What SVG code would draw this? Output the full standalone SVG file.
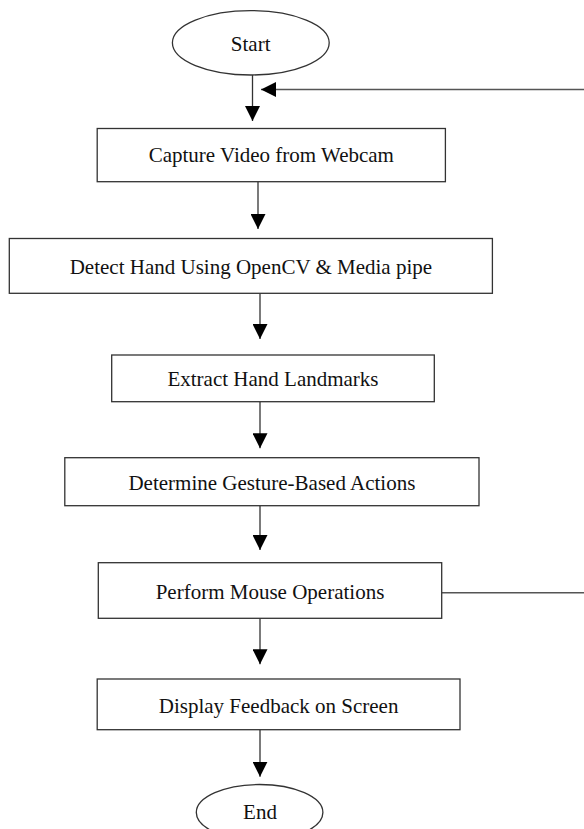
<svg xmlns="http://www.w3.org/2000/svg" width="584" height="829" viewBox="0 0 584 829">
<style>
.n{fill:#fff;stroke:#333;stroke-width:1.3}
.t{font-family:"Liberation Serif","Times New Roman",serif;font-size:21px;fill:#111;text-anchor:middle}
.c{fill:none;stroke:#333;stroke-width:1.3}
.fb{fill:none;stroke:#555;stroke-width:1.5}
</style>
<defs>
<marker id="ah" markerUnits="userSpaceOnUse" markerWidth="15" markerHeight="15" refX="15" refY="7.5" orient="auto">
<path d="M0,0 L15,7.5 L0,15 z" fill="#000"/>
</marker>
</defs>
<rect width="584" height="829" fill="#fff"/>
<g id="connectors">
<line class="c" x1="252.5" y1="75" x2="252.5" y2="121" marker-end="url(#ah)"/>
<line class="c" x1="258" y1="181.7" x2="258" y2="229" marker-end="url(#ah)"/>
<line class="c" x1="260" y1="293.3" x2="260" y2="339" marker-end="url(#ah)"/>
<line class="c" x1="260" y1="401.7" x2="260" y2="448.3" marker-end="url(#ah)"/>
<line class="c" x1="260" y1="505.7" x2="260" y2="550" marker-end="url(#ah)"/>
<line class="c" x1="260" y1="618.3" x2="260" y2="664.3" marker-end="url(#ah)"/>
<line class="c" x1="260" y1="729.7" x2="260" y2="776.7" marker-end="url(#ah)"/>
<path class="fb" d="M441.7,592.7 H592 V89.5 H261" marker-end="url(#ah)"/>
</g>
<g id="start">
<ellipse class="n" cx="250.8" cy="42.8" rx="78.4" ry="32.2"/>
<text class="t" x="250.7" y="51">Start</text>
</g>
<g id="capture">
<rect class="n" x="97.2" y="128.5" width="348.2" height="53.2"/>
<text class="t" x="271.3" y="162.3">Capture Video from Webcam</text>
</g>
<g id="detect">
<rect class="n" x="9.3" y="238.5" width="483.1" height="54.8"/>
<text class="t" x="250.9" y="274">Detect Hand Using OpenCV &amp; Media pipe</text>
</g>
<g id="extract">
<rect class="n" x="111.7" y="355" width="322.6" height="46.7"/>
<text class="t" x="273" y="385.7">Extract Hand Landmarks</text>
</g>
<g id="determine">
<rect class="n" x="64.8" y="457.7" width="414.2" height="48"/>
<text class="t" x="271.9" y="490">Determine Gesture-Based Actions</text>
</g>
<g id="perform">
<rect class="n" x="98.3" y="562.7" width="343.4" height="55.6"/>
<text class="t" x="270" y="599">Perform Mouse Operations</text>
</g>
<g id="display">
<rect class="n" x="97.2" y="679" width="362.8" height="50.7"/>
<text class="t" x="278.6" y="712.7">Display Feedback on Screen</text>
</g>
<g id="end">
<ellipse class="n" cx="259.6" cy="812.5" rx="63.3" ry="28"/>
<text class="t" x="260" y="818.5">End</text>
</g>
</svg>
